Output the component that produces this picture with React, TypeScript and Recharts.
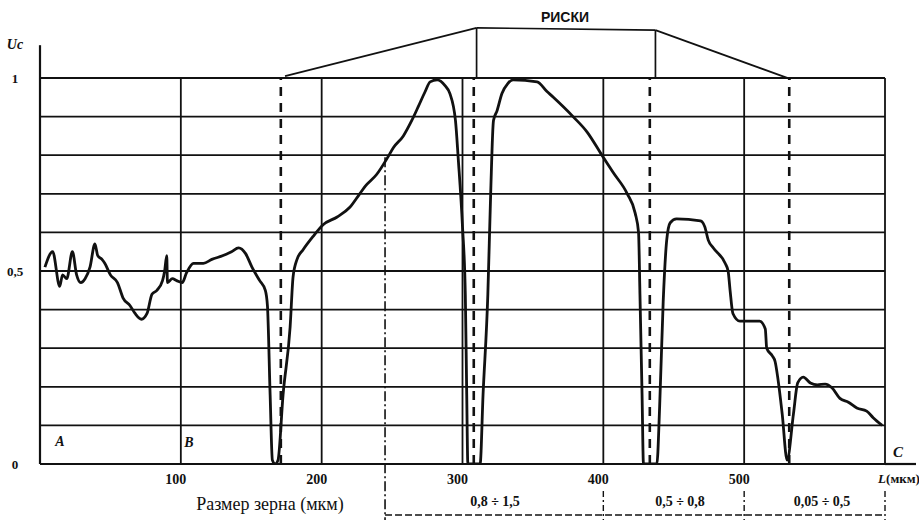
import { LineChart, Line, XAxis, YAxis, CartesianGrid, ReferenceLine } from "recharts";

// grain size, мкм
const sizeData = [
  3.5, 9, 14, 16, 19, 23, 26, 29, 32, 35.5, 39, 41, 44, 46, 50, 55, 59, 64, 67.5, 72, 76, 79.5, 83, 87, 88.5, 90,
  90.5, 94, 97, 101, 104, 109, 116, 122, 130, 136, 141, 146, 150.5, 156, 160, 161.5, 163.4, 165, 167, 169, 172.6,
  177.6, 179.7, 182.5, 186.8, 194, 201, 211, 220, 227, 231, 239, 247, 251, 258, 264, 268.5, 273.5, 277, 282, 287.6,
  291, 295, 297, 300, 302, 303, 303.8, 312.5, 314.6, 318, 320, 322, 324.5, 328, 332, 336, 353, 360, 364.5, 378.5,
  388.5, 399, 407, 417, 422.6, 425, 426, 427.5, 428.5, 438, 440, 442.5, 445, 447.5, 452, 469, 472, 474.5, 478, 486.5,
  488.6, 490, 492, 497, 511, 515, 516, 520, 522, 524, 527, 530.5, 535, 538, 542, 547, 552, 557.5, 562.5, 568, 574,
  580, 587, 591.6, 598,
];

// Uc signal
const ucData = [
  0.51, 0.55, 0.46, 0.49, 0.48, 0.55, 0.49, 0.47, 0.48, 0.51, 0.57, 0.54, 0.53, 0.52, 0.49, 0.47, 0.43, 0.41, 0.39,
  0.375, 0.39, 0.44, 0.45, 0.475, 0.5, 0.54, 0.47, 0.48, 0.475, 0.47, 0.495, 0.52, 0.52, 0.53, 0.54, 0.55, 0.56, 0.545,
  0.51, 0.475, 0.45, 0.41, 0.18, 0.01, 0, 0.01, 0.18, 0.355, 0.485, 0.53, 0.555, 0.59, 0.62, 0.64, 0.665, 0.7, 0.72,
  0.75, 0.795, 0.82, 0.85, 0.89, 0.925, 0.965, 0.99, 0.995, 0.98, 0.96, 0.89, 0.79, 0.615, 0.44, 0.18, 0, 0, 0.18,
  0.44, 0.7, 0.89, 0.915, 0.96, 0.985, 0.995, 0.99, 0.965, 0.95, 0.9, 0.86, 0.8, 0.755, 0.7, 0.65, 0.6, 0.44, 0.18, 0,
  0, 0.15, 0.42, 0.58, 0.625, 0.635, 0.63, 0.615, 0.58, 0.56, 0.52, 0.5, 0.45, 0.39, 0.37, 0.37, 0.35, 0.3, 0.28,
  0.265, 0.22, 0.13, 0.01, 0.13, 0.21, 0.225, 0.21, 0.205, 0.207, 0.197, 0.17, 0.16, 0.145, 0.137, 0.12, 0.1,
];

const xTicks = [0, 100, 200, 300, 400, 500, 600];
const yTicks = [0, 0.1, 0.2, 0.3, 0.4, 0.5, 0.6, 0.7, 0.8, 0.9, 1];
const yLabels: Record<string, string> = { "0": "0", "0.5": "0,5", "1": "1" };

// риски (marks) and range borders
const riskMarks = [171, 308, 433, 532];
const rangeBorders = [245, 400, 500, 600];
const rangeLabels = ["0,8 ÷ 1,5", "0,5 ÷ 0,8", "0,05 ÷ 0,5"];

const data = sizeData.map((s, i) => ({ size: s, uc: ucData[i] }));

const serif = "Liberation Serif, Times New Roman, DejaVu Serif, serif";

function XTick({ x, y, payload }: any) {
  const v = payload.value;
  if (v === 0) return <g />;
  if (v === 600) {
    return (
      <text x={x + 14} y={y + 2} dy="0.71em" textAnchor="middle" fontFamily={serif} fontSize={13} fontWeight="bold" fill="#111">
        <tspan fontStyle="italic">L</tspan>(мкм)
      </text>
    );
  }
  return (
    <text x={x - 5} y={y + 2} dy="0.71em" textAnchor="middle" fontFamily={serif} fontSize={14} fontWeight="bold" fill="#111">
      {v}
    </text>
  );
}

function YTick({ y, payload }: any) {
  const label = yLabels[String(payload.value)];
  if (!label) return <g />;
  return (
    <text x={15} y={y} dy="0.35em" textAnchor="middle" fontFamily={serif} fontSize={13} fontWeight="bold" fill="#111">
      {label}
    </text>
  );
}

const txt = (left: number, top: number, size: number, extra: any = {}) => ({
  position: "absolute" as const,
  left,
  top,
  transform: "translate(-50%, -50%)",
  fontFamily: serif,
  fontSize: size,
  color: "#111",
  whiteSpace: "nowrap" as const,
  lineHeight: 1,
  ...extra,
});

export default function App() {
  return (
    <div style={{ position: "absolute", left: 0, top: 0, width: 919, height: 521, background: "#fff" }}>
      <LineChart width={919} height={521} data={data} margin={{ top: 78, right: 34, bottom: 27, left: 0 }}>
        <CartesianGrid stroke="#111" strokeWidth={1.8} />
        <XAxis
          type="number"
          dataKey="size"
          domain={[0, 600]}
          ticks={xTicks}
          tickLine={false}
          axisLine={{ stroke: "#111", strokeWidth: 2.2 }}
          tick={<XTick />}
          height={30}
          allowDataOverflow
        />
        <YAxis
          type="number"
          domain={[0, 1]}
          ticks={yTicks}
          tickLine={false}
          axisLine={{ stroke: "#111", strokeWidth: 2.2 }}
          tick={<YTick />}
          width={40}
          allowDataOverflow
        />
        {/* axis extensions */}
        <ReferenceLine segment={[{ x: 0, y: 1 }, { x: 0, y: 1.085 }]} stroke="#111" strokeWidth={2.2} ifOverflow="visible" />
        <ReferenceLine segment={[{ x: 600, y: 0 }, { x: 622, y: 0 }]} stroke="#111" strokeWidth={2.2} ifOverflow="visible" />
        {/* риски */}
        {riskMarks.map((m) => (
          <ReferenceLine key={m} x={m} stroke="#111" strokeWidth={2.6} strokeDasharray="9 7" />
        ))}
        {/* bracket above */}
        <ReferenceLine segment={[{ x: 174, y: 1.005 }, { x: 310, y: 1.13 }]} stroke="#111" strokeWidth={1.7} ifOverflow="visible" />
        <ReferenceLine segment={[{ x: 310, y: 1.13 }, { x: 437, y: 1.124 }]} stroke="#111" strokeWidth={1.7} ifOverflow="visible" />
        <ReferenceLine segment={[{ x: 437, y: 1.124 }, { x: 533, y: 0.997 }]} stroke="#111" strokeWidth={1.7} ifOverflow="visible" />
        <ReferenceLine segment={[{ x: 310, y: 1.13 }, { x: 310, y: 1.0 }]} stroke="#111" strokeWidth={1.7} ifOverflow="visible" />
        <ReferenceLine segment={[{ x: 437, y: 1.124 }, { x: 437, y: 1.0 }]} stroke="#111" strokeWidth={1.7} ifOverflow="visible" />
        {/* range brackets below */}
        <ReferenceLine segment={[{ x: 245, y: 0.795 }, { x: 245, y: -0.145 }]} stroke="#111" strokeWidth={1.6} strokeDasharray="10 3 2 3" ifOverflow="visible" />
        {rangeBorders.slice(1).map((b) => (
          <ReferenceLine key={b} segment={[{ x: b, y: -0.07 }, { x: b, y: -0.145 }]} stroke="#111" strokeWidth={1.4} strokeDasharray="6 3 2 3" ifOverflow="visible" />
        ))}
        <ReferenceLine segment={[{ x: 245, y: -0.132 }, { x: 600, y: -0.132 }]} stroke="#111" strokeWidth={1.4} strokeDasharray="7 3" ifOverflow="visible" />
        <Line
          type="monotone"
          dataKey="uc"
          stroke="#111"
          strokeWidth={2.8}
          dot={false}
          isAnimationActive={false}
        />
      </LineChart>
      <div style={txt(565, 17, 14, { fontWeight: "bold", fontFamily: "Liberation Sans, Arial, sans-serif" })}>РИСКИ</div>
      <div style={txt(15, 45, 14, { fontWeight: "bold", fontStyle: "italic" })}>Uc</div>
      <div style={txt(60, 442, 14, { fontWeight: "bold", fontStyle: "italic" })}>A</div>
      <div style={txt(189, 443, 14, { fontWeight: "bold", fontStyle: "italic" })}>B</div>
      <div style={txt(898, 452, 15, { fontWeight: "bold", fontStyle: "italic" })}>C</div>
      <div style={txt(270, 504, 18)}>Размер зерна (мкм)</div>
      <div style={txt(495, 502, 14, { fontWeight: "bold" })}>{rangeLabels[0]}</div>
      <div style={txt(680, 502, 14, { fontWeight: "bold" })}>{rangeLabels[1]}</div>
      <div style={txt(822, 502, 14, { fontWeight: "bold" })}>{rangeLabels[2]}</div>
    </div>
  );
}
